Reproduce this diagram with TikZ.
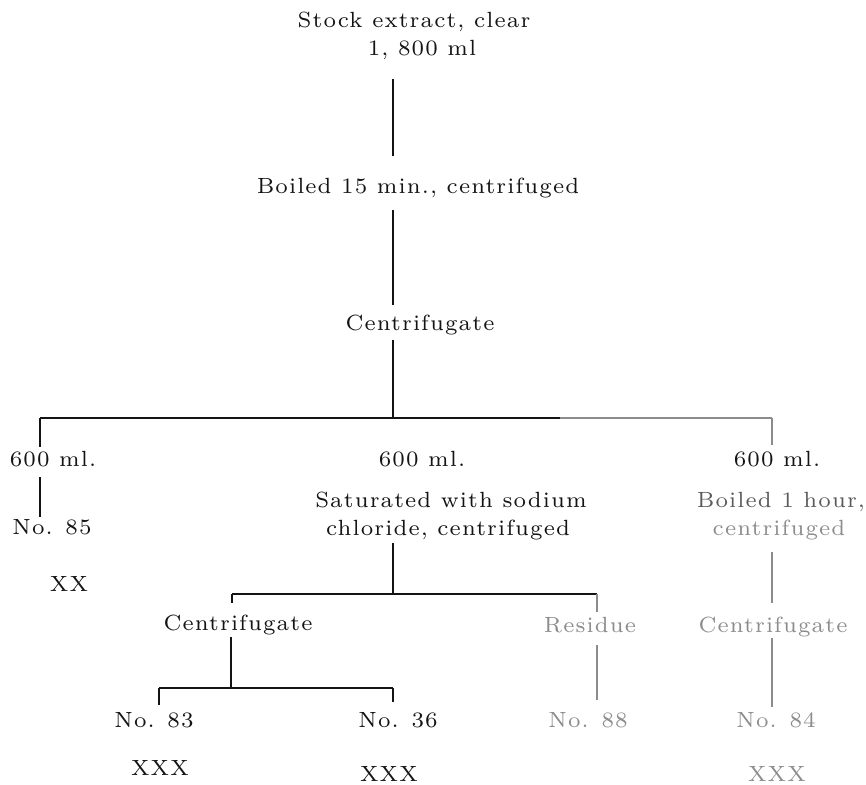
\documentclass[tikz,border=0pt]{standalone}
\usepackage{fontspec}
\setmainfont{lmroman7-regular.otf}[LetterSpace=5]
\definecolor{ink}{HTML}{141414}
\definecolor{pale}{HTML}{8C8C8C}
\definecolor{mid}{HTML}{5A5A5A}
\begin{document}
\begin{tikzpicture}[x=1pt,y=-1pt,
  lbl/.style={font=\fontsize{22}{26}\selectfont, text=ink, inner sep=0pt,
    text height=14pt, text depth=4pt, anchor=center},
  faint/.style={text=pale},
  half/.style={text=mid},
  stem/.style={draw=ink, line width=1.3pt},
  rail/.style={draw=ink, line width=1.8pt}]
\useasboundingbox (0,0) rectangle (866,784);

% main sequence
\node[lbl] (stock)  at (414,23)  {Stock extract, clear};
\node[lbl] (vol)    at (422,51)  {1, 800 ml};
\node[lbl] (boiled) at (418,188) {Boiled 15 min., centrifuged};
\node[lbl] (cent)   at (420,325) {Centrifugate};

% three portions
\node[lbl] (l600) at (53,461)  {600 ml.};
\node[lbl] (n85)  at (52,529)  {No. 85};
\node[lbl] (xx)   at (69,586)  {XX};

\node[lbl] (m600) at (422,461) {600 ml.};
\node[lbl] (sat)  at (451,502) {Saturated with sodium};
\node[lbl] (chl)  at (448,530) {chloride, centrifuged};

\node[lbl] (r600)  at (777,461) {600 ml.};
\node[lbl, half] (rboil) at (781,502) {Boiled 1 hour,};
\node[lbl, faint] (rcen) at (779,530) {centrifuged};

% second level
\node[lbl] (lcent) at (238,625) {Centrifugate};
\node[lbl, faint] (res) at (590,627) {Residue};
\node[lbl, faint] (rcent) at (773,627) {Centrifugate};

% samples
\node[lbl] (n83) at (154,722) {No. 83};
\node[lbl] (n36) at (398,722) {No. 36};
\node[lbl, faint] (n88) at (588,722) {No. 88};
\node[lbl, faint] (n84) at (776,722) {No. 84};
\node[lbl] (x83) at (160,770) {XXX};
\node[lbl] (x36) at (389,776) {XXX};
\node[lbl, faint] (x84) at (777,776) {XXX};

% branch points
\coordinate (split) at (393,418);
\coordinate (lx)    at (40,418);
\coordinate (fade)  at (560,418);
\coordinate (rx)    at (772,418);
\coordinate (split2) at (393,594);
\coordinate (lx2)   at (232,594);
\coordinate (rx2)   at (597,594);
\coordinate (split3) at (231,688);
\coordinate (lx3)   at (159,688);
\coordinate (rx3)   at (393,688);

% trunk
\draw[stem, shorten <=19pt, shorten >=23pt] (vol.south -| split) -- (boiled.north -| split);
\draw[stem, shorten <=13pt, shorten >=11pt] (boiled.south -| split) -- (cent.north -| split);
\draw[stem, shorten <=6pt] (cent.south -| split) -- (split);

% first split
\draw[rail] (lx) -- (fade);
\draw[rail, draw=pale] (fade) -- (rx);
\draw[stem, shorten >=5pt] (lx) -- (l600.north -| lx);
\draw[stem, draw=pale, shorten >=7pt] (rx) -- (r600.north -| rx);
\draw[stem, shorten <=7pt, shorten >=3pt] (l600.south -| lx) -- (n85.north -| lx);

% sodium chloride branch
\draw[stem, shorten <=4pt] (chl.south -| split2) -- (split2);
\draw[rail] (lx2) -- (rx2);
\draw[stem, shorten >=13pt] (lx2) -- (lcent.north -| lx2);
\draw[stem, draw=pale, shorten >=6pt] (rx2) -- (res.north -| rx2);
\draw[stem, draw=pale, shorten <=9pt, shorten >=13pt] (res.south -| rx2) -- (n88.north -| rx2);

\draw[stem, shorten <=3pt] (lcent.south -| split3) -- (split3);
\draw[rail, line width=1.5pt] (lx3) -- (rx3);
\draw[stem, shorten >=8pt] (lx3) -- (n83.north -| lx3);
\draw[stem, shorten >=11pt] (rx3) -- (n36.north -| rx3);

% long boiling branch
\draw[stem, draw=pale, shorten <=13pt, shorten >=15pt] (rcen.south -| rx) -- (rcent.north -| rx);
\draw[stem, draw=pale, shorten <=2pt, shorten >=6pt] (rcent.south -| rx) -- (n84.north -| rx);
\end{tikzpicture}
\end{document}
